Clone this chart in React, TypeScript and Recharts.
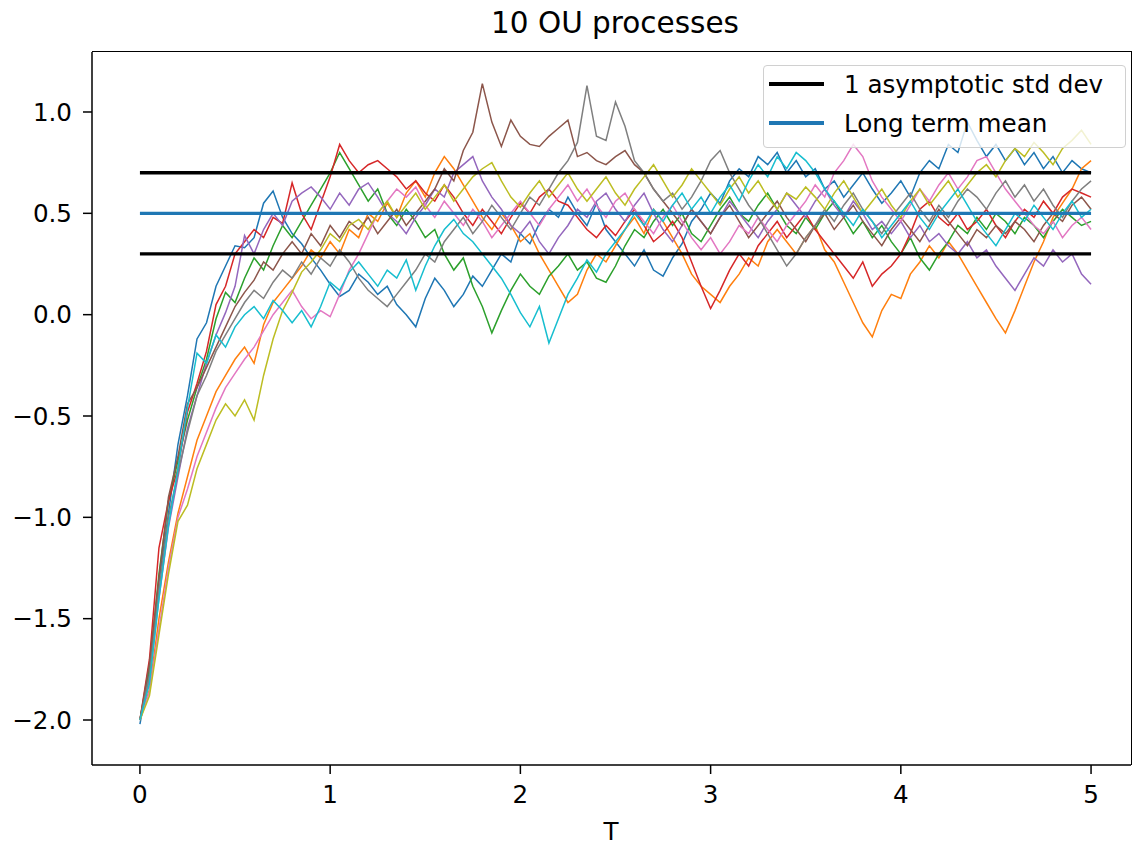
import React from 'react';
import { LineChart, Line, XAxis, YAxis } from 'recharts';

// time grid, step 0.05 from 0 to 5
const T = Array.from({ length: 101 }, (_, i) => Math.round(i * 5) / 100);

const blue = [
  -2.02, -1.76, -1.32, -0.98, -0.64, -0.40, -0.12, -0.04, 0.14, 0.24,
  0.34, 0.33, 0.38, 0.55, 0.61, 0.48, 0.40, 0.35, 0.28, 0.22,
  0.15, 0.09, 0.12, 0.20, 0.16, 0.10, 0.14, 0.05, 0.00, -0.06,
  0.08, 0.18, 0.12, 0.04, 0.10, 0.19, 0.14, 0.22, 0.30, 0.26,
  0.40, 0.35, 0.45, 0.52, 0.48, 0.58, 0.50, 0.44, 0.55, 0.42,
  0.36, 0.30, 0.24, 0.32, 0.22, 0.19, 0.28, 0.35, 0.46, 0.52,
  0.60, 0.55, 0.66, 0.72, 0.68, 0.78, 0.74, 0.80, 0.70, 0.76,
  0.68, 0.72, 0.62, 0.66, 0.58, 0.64, 0.70, 0.62, 0.55, 0.60,
  0.66, 0.58, 0.70, 0.76, 0.72, 0.84, 0.80, 0.95, 0.86, 0.78,
  0.84, 0.76, 0.82, 0.74, 0.80, 0.72, 0.78, 0.70, 0.76, 0.72,
  0.70,
];
const orange = [
  -2.0, -1.85, -1.50, -1.22, -0.98, -0.80, -0.62, -0.50, -0.38, -0.30,
  -0.22, -0.16, -0.24, -0.05, 0.06, 0.12, 0.18, 0.24, 0.32, 0.28,
  0.36, 0.30, 0.42, 0.38, 0.50, 0.46, 0.55, 0.48, 0.60, 0.66,
  0.58, 0.70, 0.78, 0.72, 0.64, 0.56, 0.48, 0.42, 0.50, 0.44,
  0.36, 0.40, 0.30, 0.22, 0.14, 0.06, 0.10, 0.22, 0.30, 0.26,
  0.34, 0.42, 0.48, 0.40, 0.52, 0.46, 0.38, 0.30, 0.20, 0.14,
  0.10, 0.06, 0.14, 0.20, 0.28, 0.24, 0.36, 0.42, 0.36, 0.30,
  0.38, 0.44, 0.32, 0.26, 0.16, 0.06, -0.04, -0.11, 0.02, 0.10,
  0.08, 0.20, 0.26, 0.34, 0.28, 0.36, 0.30, 0.22, 0.14, 0.06,
  -0.02, -0.09, 0.02, 0.14, 0.26, 0.36, 0.48, 0.55, 0.62, 0.72,
  0.76,
];
const green = [
  -2.0, -1.74, -1.28, -0.92, -0.72, -0.52, -0.36, -0.22, -0.02, 0.11,
  0.06, 0.18, 0.28, 0.22, 0.34, 0.44, 0.38, 0.46, 0.54, 0.62,
  0.70, 0.80, 0.72, 0.64, 0.56, 0.62, 0.50, 0.44, 0.52, 0.46,
  0.38, 0.42, 0.30, 0.22, 0.28, 0.14, 0.04, -0.09, 0.02, 0.12,
  0.20, 0.14, 0.10, 0.19, 0.24, 0.30, 0.22, 0.26, 0.18, 0.16,
  0.24, 0.34, 0.42, 0.38, 0.46, 0.52, 0.44, 0.50, 0.40, 0.36,
  0.44, 0.52, 0.58, 0.50, 0.46, 0.54, 0.60, 0.52, 0.44, 0.40,
  0.48, 0.42, 0.50, 0.56, 0.48, 0.40, 0.46, 0.38, 0.44, 0.36,
  0.30, 0.38, 0.28, 0.22, 0.30, 0.36, 0.44, 0.40, 0.48, 0.42,
  0.50, 0.46, 0.40, 0.48, 0.44, 0.38, 0.46, 0.52, 0.48, 0.44,
  0.46,
];
const red = [
  -2.0, -1.70, -1.15, -0.92, -0.76, -0.48, -0.34, -0.18, 0.05, 0.14,
  0.30, 0.36, 0.42, 0.38, 0.48, 0.45, 0.65, 0.50, 0.42, 0.55,
  0.68, 0.84, 0.76, 0.70, 0.74, 0.76, 0.72, 0.68, 0.62, 0.66,
  0.60, 0.56, 0.64, 0.58, 0.50, 0.44, 0.52, 0.46, 0.40, 0.48,
  0.55, 0.50, 0.58, 0.62, 0.56, 0.54, 0.48, 0.42, 0.38, 0.44,
  0.39, 0.46, 0.52, 0.44, 0.36, 0.40, 0.46, 0.38, 0.26, 0.14,
  0.03, 0.12, 0.22, 0.30, 0.24, 0.34, 0.40, 0.46, 0.38, 0.44,
  0.50, 0.42, 0.36, 0.30, 0.24, 0.18, 0.26, 0.14, 0.20, 0.24,
  0.30, 0.40, 0.52, 0.56, 0.48, 0.44, 0.50, 0.42, 0.46, 0.52,
  0.44, 0.38, 0.46, 0.52, 0.48, 0.56, 0.50, 0.58, 0.62, 0.60,
  0.58,
];
const purple = [
  -2.0, -1.80, -1.40, -1.05, -0.80, -0.56, -0.40, -0.24, -0.10, 0.01,
  0.14, 0.39, 0.30, 0.42, 0.50, 0.44, 0.56, 0.60, 0.63, 0.58,
  0.52, 0.60, 0.54, 0.62, 0.65, 0.58, 0.50, 0.46, 0.40, 0.48,
  0.54, 0.62, 0.58, 0.70, 0.74, 0.78, 0.66, 0.58, 0.52, 0.44,
  0.40, 0.46, 0.36, 0.30, 0.38, 0.44, 0.52, 0.48, 0.56, 0.60,
  0.52, 0.46, 0.54, 0.60, 0.50, 0.42, 0.36, 0.44, 0.52, 0.46,
  0.40, 0.48, 0.56, 0.50, 0.44, 0.38, 0.46, 0.52, 0.60, 0.54,
  0.48, 0.56, 0.62, 0.54, 0.48, 0.56, 0.50, 0.42, 0.46, 0.40,
  0.46, 0.38, 0.44, 0.36, 0.40, 0.34, 0.30, 0.36, 0.28, 0.32,
  0.24, 0.18, 0.12, 0.20, 0.28, 0.24, 0.32, 0.26, 0.30, 0.20,
  0.15,
];
const brown = [
  -2.0, -1.72, -1.30, -0.90, -0.70, -0.44, -0.36, -0.26, -0.16, -0.06,
  0.04, 0.11, 0.17, 0.26, 0.22, 0.30, 0.36, 0.30, 0.40, 0.34,
  0.44, 0.38, 0.46, 0.42, 0.48, 0.40, 0.46, 0.52, 0.44, 0.50,
  0.56, 0.62, 0.72, 0.66, 0.81, 0.90, 1.14, 0.95, 0.83, 0.96,
  0.88, 0.84, 0.83, 0.88, 0.92, 0.96, 0.78, 0.80, 0.76, 0.74,
  0.78, 0.81, 0.74, 0.70, 0.62, 0.56, 0.50, 0.44, 0.52, 0.46,
  0.40, 0.48, 0.54, 0.46, 0.38, 0.44, 0.50, 0.56, 0.48, 0.42,
  0.36, 0.44, 0.50, 0.42, 0.48, 0.54, 0.46, 0.40, 0.34, 0.42,
  0.48, 0.42, 0.36, 0.44, 0.52, 0.46, 0.40, 0.34, 0.42, 0.38,
  0.44, 0.40, 0.46, 0.42, 0.36, 0.44, 0.50, 0.46, 0.54, 0.58,
  0.52,
];
const pink = [
  -2.0, -1.86, -1.55, -1.25, -1.00, -0.86, -0.70, -0.58, -0.46, -0.36,
  -0.29, -0.22, -0.16, -0.08, 0.00, 0.06, 0.12, 0.04, -0.02, 0.02,
  -0.01, 0.10, 0.22, 0.30, 0.40, 0.50, 0.56, 0.62, 0.58, 0.63,
  0.54, 0.48, 0.56, 0.50, 0.44, 0.52, 0.46, 0.38, 0.44, 0.50,
  0.56, 0.50, 0.44, 0.52, 0.58, 0.64, 0.56, 0.62, 0.54, 0.48,
  0.56, 0.60, 0.52, 0.46, 0.40, 0.48, 0.54, 0.46, 0.38, 0.32,
  0.38, 0.30, 0.36, 0.44, 0.40, 0.48, 0.42, 0.36, 0.44, 0.50,
  0.56, 0.64, 0.58, 0.70, 0.76, 0.84, 0.78, 0.66, 0.58, 0.52,
  0.46, 0.54, 0.62, 0.56, 0.64, 0.70, 0.62, 0.68, 0.76, 0.78,
  0.70, 0.62, 0.56, 0.50, 0.44, 0.40, 0.46, 0.38, 0.44, 0.48,
  0.42,
];
const gray = [
  -2.0, -1.78, -1.36, -1.00, -0.78, -0.58, -0.40, -0.30, -0.18, -0.10,
  -0.02, 0.06, 0.12, 0.08, 0.16, 0.22, 0.18, 0.26, 0.20, 0.28,
  0.24, 0.32, 0.26, 0.18, 0.12, 0.08, 0.04, 0.10, 0.16, 0.22,
  0.30, 0.26, 0.36, 0.42, 0.48, 0.40, 0.46, 0.54, 0.48, 0.42,
  0.50, 0.58, 0.54, 0.62, 0.70, 0.76, 0.85, 1.13, 0.88, 0.86,
  1.05, 0.93, 0.76, 0.70, 0.62, 0.56, 0.60, 0.52, 0.58, 0.66,
  0.76, 0.81, 0.70, 0.62, 0.54, 0.48, 0.40, 0.32, 0.24, 0.30,
  0.38, 0.44, 0.52, 0.46, 0.54, 0.60, 0.52, 0.46, 0.40, 0.48,
  0.54, 0.60, 0.52, 0.46, 0.54, 0.48, 0.56, 0.62, 0.58, 0.52,
  0.60, 0.66, 0.58, 0.64, 0.56, 0.62, 0.54, 0.48, 0.56, 0.62,
  0.66,
];
const olive = [
  -2.0, -1.88, -1.58, -1.28, -1.02, -0.94, -0.76, -0.64, -0.52, -0.44,
  -0.50, -0.42, -0.52, -0.30, -0.12, 0.02, 0.11, 0.21, 0.26, 0.32,
  0.40, 0.36, 0.44, 0.47, 0.42, 0.50, 0.56, 0.48, 0.54, 0.60,
  0.52, 0.58, 0.64, 0.56, 0.62, 0.68, 0.72, 0.75, 0.66, 0.58,
  0.53, 0.60, 0.66, 0.58, 0.64, 0.70, 0.62, 0.56, 0.62, 0.68,
  0.60, 0.54, 0.62, 0.68, 0.74, 0.66, 0.58, 0.64, 0.72, 0.66,
  0.60, 0.54, 0.62, 0.68, 0.60, 0.66, 0.58, 0.52, 0.60, 0.57,
  0.63, 0.58, 0.52, 0.60, 0.66, 0.58, 0.50, 0.56, 0.62, 0.54,
  0.48, 0.56, 0.62, 0.54, 0.60, 0.66, 0.58, 0.64, 0.70, 0.74,
  0.68, 0.76, 0.82, 0.78, 0.85, 0.80, 0.74, 0.82, 0.86, 0.91,
  0.84,
];
const cyan = [
  -2.0, -1.82, -1.40, -1.04, -0.76, -0.46, -0.19, -0.24, -0.10, -0.16,
  -0.06, 0.00, 0.04, -0.02, 0.07, 0.02, -0.04, 0.02, -0.06, 0.04,
  0.16, 0.12, 0.21, 0.26, 0.20, 0.14, 0.22, 0.18, 0.27, 0.12,
  0.24, 0.34, 0.42, 0.47, 0.40, 0.36, 0.30, 0.24, 0.18, 0.10,
  0.01, -0.06, 0.04, -0.14, -0.02, 0.10, 0.18, 0.27, 0.21, 0.30,
  0.36, 0.42, 0.50, 0.44, 0.52, 0.46, 0.54, 0.60, 0.52, 0.58,
  0.50, 0.58, 0.64, 0.56, 0.66, 0.74, 0.68, 0.78, 0.72, 0.80,
  0.76, 0.70, 0.62, 0.56, 0.50, 0.44, 0.52, 0.46, 0.38, 0.44,
  0.50, 0.56, 0.48, 0.42, 0.50, 0.56, 0.62, 0.54, 0.46, 0.40,
  0.34, 0.42, 0.50, 0.46, 0.54, 0.48, 0.42, 0.50, 0.56, 0.48,
  0.52,
];

const processes = [blue, orange, green, red, purple, brown, pink, gray, olive, cyan];
const colors = ['#1f77b4', '#ff7f0e', '#2ca02c', '#d62728', '#9467bd', '#8c564b', '#e377c2', '#7f7f7f', '#bcbd22', '#17becf'];

const LONG_TERM_MEAN = 0.5;
const STD_DEV = 0.2;
const T_END = 5;

const xTicks = [0, 1, 2, 3, 4, 5];
const yTicks = [-2, -1.5, -1, -0.5, 0, 0.5, 1];

const FONT = '"DejaVu Sans", sans-serif';

const rows = T.map((t, i) => {
  const row: Record<string, number> = { t };
  processes.forEach((p, k) => { row['p' + k] = p[i]; });
  return row;
});

const upper = [{ t: 0, v: LONG_TERM_MEAN + STD_DEV }, { t: T_END, v: LONG_TERM_MEAN + STD_DEV }];
const lower = [{ t: 0, v: LONG_TERM_MEAN - STD_DEV }, { t: T_END, v: LONG_TERM_MEAN - STD_DEV }];
const mean = [{ t: 0, v: LONG_TERM_MEAN }, { t: T_END, v: LONG_TERM_MEAN }];

const fmtY = (v: number) => (v < 0 ? '\u2212' + Math.abs(v).toFixed(1) : v.toFixed(1));

const xDomain = [-0.252, 5.21];
const yDomain = [-2.222, 1.296];

export default function App() {
  const tickStyle = { fill: '#000', fontSize: 24.6, fontFamily: FONT };
  return (
    <div style={{ position: 'relative', width: 1133, height: 845, fontFamily: FONT, background: '#fff' }}>
      <style>{'body{margin:0}'}</style>
      <div style={{ position: 'absolute', left: 415, width: 400, top: 6, textAlign: 'center', fontSize: 29.5, lineHeight: 'normal', color: '#000' }}>
        10 OU processes
      </div>
      <LineChart width={1133} height={845} data={rows} margin={{ top: 52, right: 2, bottom: 0, left: 0 }}>
        <XAxis dataKey="t" type="number" domain={xDomain} ticks={xTicks} allowDataOverflow
          height={80} tickSize={9} tickMargin={12} stroke="#000" strokeWidth={1.5}
          tick={tickStyle} tickFormatter={(v) => String(v)} />
        <YAxis type="number" domain={yDomain} ticks={yTicks} allowDataOverflow
          width={92} tickSize={9} tickMargin={11} stroke="#000" strokeWidth={1.5}
          tick={tickStyle} tickFormatter={fmtY} />
        {processes.map((_, k) => (
          <Line key={k} dataKey={'p' + k} stroke={colors[k]} strokeWidth={1.5} dot={false}
            type="linear" isAnimationActive={false} />
        ))}
        <Line data={upper} dataKey="v" stroke="#000" strokeWidth={3.4} dot={false} isAnimationActive={false} />
        <Line data={lower} dataKey="v" stroke="#000" strokeWidth={3.4} dot={false} isAnimationActive={false} />
        <Line data={mean} dataKey="v" stroke="#1f77b4" strokeWidth={3.4} dot={false} isAnimationActive={false} />
      </LineChart>
      {/* top and right spines */}
      <div style={{
        position: 'absolute', left: 92, top: 51.25, width: 1040, height: 714, boxSizing: 'border-box',
        borderTop: '1.5px solid #000', borderRight: '1.5px solid #000', pointerEvents: 'none',
      }} />
      <div style={{ position: 'absolute', left: 611 - 100, width: 200, top: 817, textAlign: 'center', fontSize: 24.6, lineHeight: 'normal', color: '#000' }}>
        T
      </div>
      <div style={{
        position: 'absolute', left: 763, top: 65, width: 363, height: 83, boxSizing: 'border-box',
        border: '1px solid #d0d0d0', borderRadius: 4, background: 'rgba(255,255,255,0.8)',
      }}>
        {[['#000', '1 asymptotic std dev', 18], ['#1f77b4', 'Long term mean', 57]].map(([c, label, y]) => (
          <div key={label as string} style={{ position: 'absolute', left: 0, top: (y as number) - 15, height: 30, display: 'flex', alignItems: 'center' }}>
            <div style={{ marginLeft: 5, width: 55, height: 3.4, background: c as string }} />
            <span style={{ marginLeft: 20, fontSize: 24.6, lineHeight: 'normal', color: '#000', whiteSpace: 'nowrap' }}>{label}</span>
          </div>
        ))}
      </div>
    </div>
  );
}
